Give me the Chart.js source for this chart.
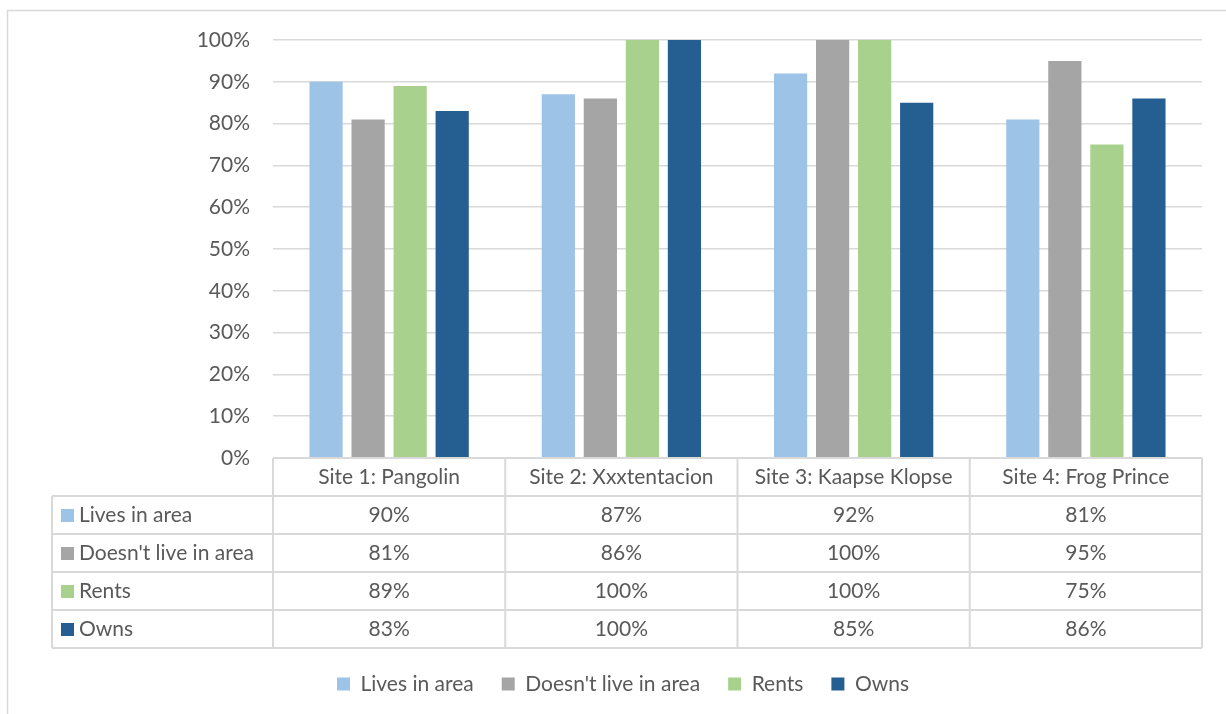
<!DOCTYPE html>
<html>
<head>
<meta charset="utf-8">
<script src="https://cdn.jsdelivr.net/npm/chart.js@4/dist/chart.umd.min.js"></script>
<style>
  html, body { margin: 0; padding: 0; background: #fff; }
  #wrap { width: 1226px; height: 714px; }
</style>
</head>
<body>
<div id="wrap"><canvas id="site-chart" width="1226" height="714"></canvas></div>
<script>
const sites = ['Site 1: Pangolin', 'Site 2: Xxxtentacion', 'Site 3: Kaapse Klopse', 'Site 4: Frog Prince'];
const seriesNames = ['Lives in area', "Doesn't live in area", 'Rents', 'Owns'];
const livesInArea = [90, 87, 92, 81];
const notInArea = [81, 86, 100, 95];
const rents = [89, 100, 100, 75];
const owns = [83, 100, 85, 86];
const yTicks = [0, 10, 20, 30, 40, 50, 60, 70, 80, 90, 100];

const colors = ['#9dc3e6', '#a5a5a5', '#a9d18e', '#255e91'];
const textColor = '#595959';
const lineColor = '#d9d9d9';
const fontFamily = 'Lato, "Open Sans", sans-serif';
const fontSize = 21;

const ROW_H = 38;
const TABLE_LEFT = 52;
const LEGEND_GAP = 28;

function pct(v) {
  return `${v}%`;
}

// frame + data table under the plot, laid out from the x scale
const dataTable = {
  id: 'dataTable',
  afterLayout(chart) {
    // center the legend row on the whole frame, not just the plot's width
    if (chart.legend) {
      chart.legend.left += 44;
    }
  },
  beforeDraw(chart) {
    const { ctx } = chart;
    ctx.save();
    ctx.strokeStyle = lineColor;
    ctx.lineWidth = 1.5;
    ctx.beginPath();
    ctx.moveTo(7.5, chart.height);
    ctx.lineTo(7.5, 10.5);
    ctx.lineTo(chart.width, 10.5);
    ctx.stroke();
    ctx.restore();
  },
  afterDraw(chart) {
    const { ctx } = chart;
    const x = chart.scales.x;
    const top = chart.chartArea.bottom;
    const colW = (x.right - x.left) / sites.length;
    const rows = chart.data.datasets.length;
    const bottom = top + ROW_H * (rows + 1);

    ctx.save();
    ctx.strokeStyle = lineColor;
    ctx.lineWidth = 2;
    ctx.beginPath();
    ctx.moveTo(x.left, top);
    ctx.lineTo(x.right, top);
    for (let r = 1; r <= rows + 1; r++) {
      const y = top + ROW_H * r;
      ctx.moveTo(TABLE_LEFT, y);
      ctx.lineTo(x.right, y);
    }
    for (let c = 0; c <= sites.length; c++) {
      const cx = x.left + colW * c;
      ctx.moveTo(cx, top);
      ctx.lineTo(cx, bottom);
    }
    ctx.moveTo(TABLE_LEFT, top + ROW_H);
    ctx.lineTo(TABLE_LEFT, bottom);
    ctx.stroke();

    ctx.font = `${fontSize}px ${fontFamily}`;
    ctx.fillStyle = textColor;
    ctx.textAlign = 'center';
    ctx.textBaseline = 'middle';
    sites.forEach((name, i) => {
      ctx.fillText(name, x.getPixelForTick(i), top + ROW_H / 2);
    });

    chart.data.datasets.forEach((ds, r) => {
      const cy = top + ROW_H * (r + 1.5);
      ctx.fillStyle = ds.backgroundColor;
      ctx.fillRect(TABLE_LEFT + 9, cy - 6, 13, 13);
      ctx.fillStyle = textColor;
      ctx.textAlign = 'left';
      ctx.fillText(ds.label, TABLE_LEFT + 27, cy);
      ctx.textAlign = 'center';
      ds.data.forEach((v, i) => {
        ctx.fillText(pct(v), x.getPixelForTick(i), cy);
      });
    });
    ctx.restore();
  }
};

const seriesData = [livesInArea, notInArea, rents, owns];

new Chart(document.getElementById('site-chart'), {
  type: 'bar',
  data: {
    labels: sites,
    datasets: seriesNames.map((name, i) => ({
      label: name,
      data: seriesData[i],
      backgroundColor: colors[i],
      categoryPercentage: 0.724,
      barPercentage: 0.79
    }))
  },
  options: {
    responsive: false,
    animation: false,
    layout: {
      padding: { top: 40, right: 24, left: 0, bottom: 9.5 }
    },
    plugins: {
      tooltip: { enabled: false },
      legend: {
        position: 'bottom',
        labels: {
          boxWidth: 13,
          boxHeight: 13,
          padding: LEGEND_GAP,
          color: textColor,
          font: { family: fontFamily, size: fontSize }
        }
      }
    },
    scales: {
      x: {
        grid: { display: false },
        border: { display: false },
        ticks: { display: false },
        // leaves room for the table rows between plot and legend
        afterFit(scale) {
          scale.height = 215.5 - LEGEND_GAP;
        }
      },
      y: {
        min: 0,
        max: 100,
        afterBuildTicks(scale) {
          scale.ticks = yTicks.map(v => ({ value: v }));
        },
        grid: { color: lineColor, lineWidth: 1.5, drawTicks: false },
        border: { display: false },
        ticks: {
          padding: 23,
          color: textColor,
          font: { family: fontFamily, size: fontSize },
          callback: v => pct(v)
        },
        afterFit(scale) {
          scale.width = 273;
        }
      }
    }
  },
  plugins: [dataTable]
});
</script>
</body>
</html>
